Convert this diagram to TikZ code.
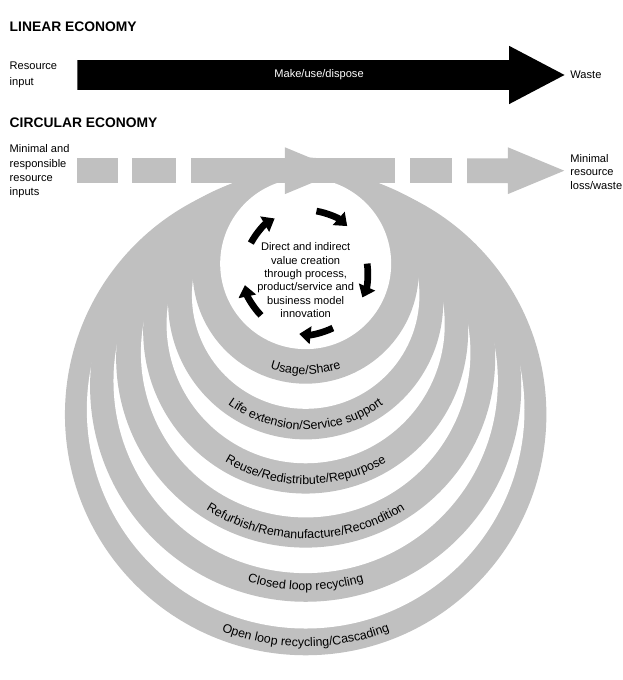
\documentclass[tikz,border=0pt]{standalone}
\usepackage{fontspec}
\setmainfont{Liberation Sans}
\usetikzlibrary{arrows.meta,decorations.text}
\definecolor{cegray}{RGB}{192,192,192}
\begin{document}
\begin{tikzpicture}[x=1pt,y=-1pt,
  ttl/.style={anchor=west,inner sep=0pt,font=\bfseries\fontsize{14.5}{17}\selectfont},
  lbl/.style={anchor=west,inner sep=0pt,align=left,font=\fontsize{11.6}{15}\selectfont},
  ringtxt/.style={decorate,decoration={text along path,text align=center,text={|\fontsize{13}{13}\selectfont|#1}}},
  cyc/.style={line width=7pt,-{Triangle[length=12pt,width=18pt]}},
  band/.style={fill=cegray},
  gap/.style={fill=white},
]
\fill[white] (0,0) rectangle (650,680);

% ---------- linear economy ----------
\node[ttl] (tlin) at (10,28) {LINEAR ECONOMY};
\fill[black] (81,63) -- (533,63) -- (533,48) -- (591,78.5) -- (533,109) -- (533,94) -- (81,94) -- cycle;
\node[inner sep=0pt,text=white,font=\fontsize{11.6}{14}\selectfont] (mud) at (334,78.5) {Make/use/dispose};
\node[lbl,font=\fontsize{11.6}{17}\selectfont] (rin) at (10,78.5) {Resource\\input};
\node[lbl] (wst) at (597,78.5) {Waste};

% ---------- circular economy ----------
\node[ttl] (tcirc) at (10,128) {CIRCULAR ECONOMY};

% nested loops (outer edge of each band, then the gap inside it)
\fill[band] (320,434)   circle[radius=252];
\fill[gap]  (320,428.9) circle[radius=229.1];
\fill[band] (320,404.3) circle[radius=225.7];
\fill[gap]  (320,398.8) circle[radius=201.2];
\fill[band] (320,374.9) circle[radius=198.4];
\fill[gap]  (320,369.2) circle[radius=172.5];
\fill[band] (320,346.6) circle[radius=170.1];
\fill[gap]  (320,339.4) circle[radius=145.6];
\fill[band] (320,316)   circle[radius=144];
\fill[gap]  (320,308.9) circle[radius=119.1];
\fill[band] (320,283.3) circle[radius=118.4];
\fill[gap]  (320,276)   circle[radius=89.5];

% dashed flow bar
\fill[band] (80.7,165.7) rectangle (123.3,191.7);
\fill[band] (138.3,165.7) rectangle (184.3,191.7);
\fill[band] (200,165.7) rectangle (413.3,191.7);
\fill[band] (298.3,154.2) -- (357.3,178.7) -- (298.3,203.2) -- cycle;
\fill[band] (429.3,165.7) rectangle (473.3,191.7);
\fill[band] (489,165.7) -- (531.7,165.7) -- (531.7,154.2) -- (590.7,178.7) -- (531.7,203.2) -- (531.7,191.7) -- (489,191.7) -- cycle;

\node[lbl] (cin) at (10,179.5) {Minimal and\\responsible\\resource\\inputs};
\node[lbl,font=\fontsize{11.6}{14.5}\selectfont] (cout) at (597,180) {Minimal\\resource\\loss/waste};

% inner cycle
\node[inner sep=0pt,align=center,font=\fontsize{11.6}{14}\selectfont] (core) at (320,293.3)
  {Direct and indirect\\value creation\\through process,\\product/service and\\business model\\innovation};
\foreach \s in {-80,-8,64,136,208}{
  \draw[cyc] (320,285) ++(\s:65) arc[start angle=\s,end angle=\s+32,radius=65];
}

% band labels
\path[ringtxt={Usage/Share}] (320,280) ++(150:112) arc[start angle=150,end angle=30,radius=112];
\path[ringtxt={Life extension/Service support}] (320,312.5) ++(150:137.5) arc[start angle=150,end angle=30,radius=137.5];
\path[ringtxt={Reuse/Redistribute/Repurpose}] (320,343) ++(150:164) arc[start angle=150,end angle=30,radius=164];
\path[ringtxt={Refurbish/Remanufacture/Recondition}] (320,372) ++(150:192) arc[start angle=150,end angle=30,radius=192];
\path[ringtxt={Closed loop recycling}] (320,401.5) ++(150:216.5) arc[start angle=150,end angle=30,radius=216.5];
\path[ringtxt={Open loop recycling/Cascading}] (320,431.5) ++(150:245.5) arc[start angle=150,end angle=30,radius=245.5];

\useasboundingbox (0,0) rectangle (650,680);
\end{tikzpicture}
\end{document}
